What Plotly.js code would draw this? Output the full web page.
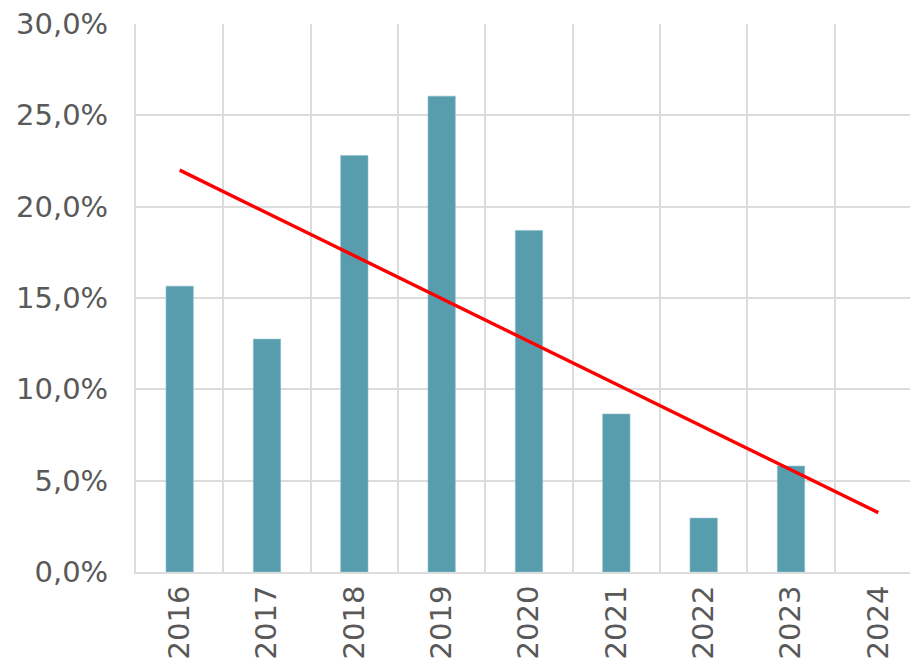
<!DOCTYPE html>
<html><head><meta charset="utf-8">
<script src="https://cdn.plot.ly/plotly-3.0.1.min.js"></script>
<style>html,body{margin:0;padding:0;overflow:hidden;background:#fff;}</style>
</head><body>
<div id="chart"></div>
<script>
const years = ['2016','2017','2018','2019','2020','2021','2022','2023','2024'];
const values = [0.1565, 0.1275, 0.228, 0.2605, 0.187, 0.0865, 0.0295, 0.058, null];
const trendYears = ['2016','2024'];
const trendValues = [0.220, 0.0325];

const bars = {
  type: 'bar', x: years, y: values,
  marker: {color: '#589DAE', line: {color: '#8ec0cc', width: 0.6}},
  hoverinfo: 'x+y'
};
const trend = {
  type: 'scatter', mode: 'lines', x: trendYears, y: trendValues,
  line: {color: '#FF0000', width: 3.4}
};
const layout = {
  width: 932, height: 666,
  margin: {l: 136, r: 10, t: 24, b: 94},
  showlegend: false,
  separators: ',.',
  bargap: 0.687,
  paper_bgcolor: '#fff', plot_bgcolor: '#fff',
  font: {family: 'DejaVu Sans, Verdana, sans-serif', size: 29, color: '#595959'},
  xaxis: {
    type: 'category', range: [-0.5, 8.5], tickson: 'boundaries',
    showgrid: true, gridcolor: '#dcdcdc', gridwidth: 2,
    showline: true, linecolor: '#dcdcdc', linewidth: 2,
    ticks: 'outside', ticklen: 22, tickcolor: 'rgba(0,0,0,0)',
    tickangle: -90, tickfont: {size: 29, color: '#595959'},
    zeroline: false, fixedrange: true
  },
  yaxis: {
    range: [0, 0.30], dtick: 0.05, tickformat: '.1%',
    showgrid: true, gridcolor: '#dcdcdc', gridwidth: 2,
    showline: true, linecolor: '#dcdcdc', linewidth: 2,
    ticks: 'outside', ticklen: 20, tickcolor: 'rgba(0,0,0,0)',
    tickfont: {size: 29, color: '#595959'},
    zeroline: false, fixedrange: true
  }
};
Plotly.newPlot('chart', [bars, trend], layout, {displayModeBar: false, staticPlot: true});
</script>
</body></html>
